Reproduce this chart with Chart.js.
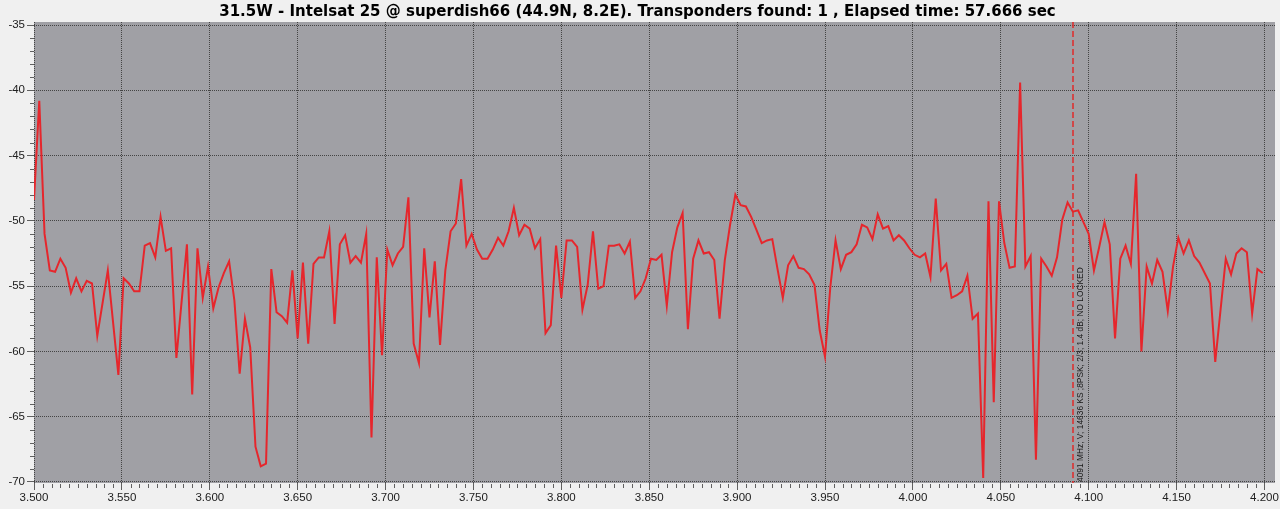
<!DOCTYPE html>
<html>
<head>
<meta charset="utf-8">
<script src="https://cdn.jsdelivr.net/npm/chart.js@4/dist/chart.umd.min.js"></script>
<style>
  html, body { margin: 0; padding: 0; background: #f0f0f0; }
  #scan { display: block; }
</style>
</head>
<body>
<canvas id="scan" width="1280" height="509"></canvas>
<script>
// Blind scan result
const TITLE = "31.5W - Intelsat 25 @ superdish66 (44.9N, 8.2E). Transponders found: 1 , Elapsed time: 57.666 sec";

// frequency (MHz) and level (dB) of the spectrum trace
const freqs = [
  3500, 3503, 3506, 3509, 3512, 3515, 3518, 3521, 3524, 3527, 3530, 3533, 3536, 3542, 3548, 3551, 3554, 3557, 3560, 3563,
  3566, 3569, 3572, 3575, 3578, 3581, 3587, 3590, 3593, 3596, 3599, 3602, 3605, 3608, 3611, 3614, 3617, 3620, 3623, 3626,
  3629, 3632, 3635, 3638, 3641, 3644, 3647, 3650, 3653, 3656, 3659, 3662, 3665, 3668, 3671, 3674, 3677, 3680, 3683, 3686,
  3689, 3692, 3695, 3698, 3701, 3704, 3707, 3710, 3713, 3716, 3719, 3722, 3725, 3728, 3731, 3734, 3737, 3740, 3743, 3746,
  3749, 3752, 3755, 3758, 3761, 3764, 3767, 3770, 3773, 3776, 3779, 3782, 3785, 3788, 3791, 3794, 3797, 3800, 3803, 3806,
  3809, 3812, 3815, 3818, 3821, 3824, 3827, 3830, 3833, 3836, 3839, 3842, 3845, 3848, 3851, 3854, 3857, 3860, 3863, 3866,
  3869, 3872, 3875, 3878, 3881, 3884, 3887, 3890, 3893, 3896, 3899, 3902, 3905, 3908, 3911, 3914, 3917, 3920, 3923, 3926,
  3929, 3932, 3935, 3938, 3941, 3944, 3947, 3950, 3953, 3956, 3959, 3962, 3965, 3968, 3971, 3974, 3977, 3980, 3983, 3986,
  3989, 3992, 3995, 3998, 4001, 4004, 4007, 4010, 4013, 4016, 4019, 4022, 4025, 4028, 4031, 4034, 4037, 4040, 4043, 4046,
  4049, 4052, 4055, 4058, 4061, 4064, 4067, 4070, 4073, 4076, 4079, 4082, 4085, 4088, 4091, 4094, 4097, 4100, 4103, 4106,
  4109, 4112, 4115, 4118, 4121, 4124, 4127, 4130, 4133, 4136, 4139, 4142, 4145, 4148, 4151, 4154, 4157, 4160, 4163, 4169,
  4172, 4178, 4181, 4184, 4187, 4190, 4193, 4196, 4199
];
const levels = [
  -48.4, -40.8, -51.0, -53.8, -53.9, -52.9, -53.6, -55.5, -54.4, -55.4, -54.6, -54.8, -58.8, -53.8, -61.8, -54.4, -54.8, -55.4, -55.4, -51.9,
  -51.7, -52.8, -49.7, -52.3, -52.1, -60.5, -51.8, -63.3, -52.1, -55.9, -53.5, -56.7, -55.1, -54.0, -53.1, -56.1, -61.7, -57.5, -59.7, -67.3,
  -68.8, -68.6, -53.7, -57.0, -57.3, -57.8, -53.8, -59.0, -53.2, -59.4, -53.3, -52.8, -52.8, -50.8, -57.9, -51.8, -51.1, -53.2, -52.7, -53.2,
  -51.0, -66.6, -52.8, -60.3, -52.2, -53.4, -52.5, -52.0, -48.2, -59.4, -60.9, -52.1, -57.4, -53.1, -59.5, -53.8, -50.8, -50.2, -46.8, -51.9,
  -51.0, -52.2, -52.9, -52.9, -52.2, -51.3, -51.9, -50.8, -49.0, -51.1, -50.3, -50.6, -52.1, -51.4, -58.6, -58.0, -51.9, -55.9, -51.5, -51.5,
  -52.0, -56.8, -54.9, -50.8, -55.2, -55.0, -51.9, -51.9, -51.8, -52.5, -51.6, -55.9, -55.4, -54.4, -52.9, -53.0, -52.6, -56.5, -52.4, -50.5,
  -49.4, -58.3, -52.9, -51.5, -52.5, -52.4, -53.0, -57.5, -53.0, -50.3, -48.0, -48.8, -48.9, -49.7, -50.7, -51.7, -51.5, -51.4, -53.7, -55.9,
  -53.4, -52.7, -53.6, -53.7, -54.1, -54.9, -58.4, -60.4, -55.1, -51.5, -53.7, -52.6, -52.4, -51.8, -50.3, -50.5, -51.4, -49.5, -50.6, -50.4,
  -51.5, -51.1, -51.5, -52.1, -52.6, -52.8, -52.5, -54.3, -48.3, -53.8, -53.3, -55.9, -55.7, -55.4, -54.2, -57.5, -57.1, -69.7, -48.5, -63.9,
  -48.5, -51.7, -53.6, -53.5, -39.4, -53.5, -52.7, -68.3, -52.9, -53.5, -54.2, -52.8, -49.9, -48.6, -49.3, -49.2, -50.1, -51.0, -53.8, -52.0,
  -50.1, -51.8, -59.0, -52.9, -51.9, -53.3, -46.4, -60.0, -53.5, -54.8, -53.0, -53.9, -56.9, -53.5, -51.3, -52.5, -51.5, -52.7, -53.2, -54.8,
  -60.8, -52.9, -54.1, -52.5, -52.1, -52.4, -57.1, -53.7, -54.0
];

// tick labels
const xTicks = [3.500, 3.550, 3.600, 3.650, 3.700, 3.750, 3.800, 3.850, 3.900, 3.950, 4.000, 4.050, 4.100, 4.150, 4.200];
const yTicks = [-70, -65, -60, -55, -50, -45, -40, -35];

// found transponder
const tpFreq = 4.091;
const tpLabel = "4091 MHz; V; 14636 KS ;8PSK; 2/3; 1.4 dB; NO LOCKED";

const FONT = "'Liberation Sans', Arial, sans-serif";

const plotBackground = {
    id: 'plotBackground',
    beforeDraw(chart) {
        const {ctx, chartArea: a} = chart;
        ctx.save();
        ctx.fillStyle = '#a0a0a5';
        ctx.fillRect(a.left, a.top, a.right - a.left, a.bottom - a.top);
        ctx.restore();
    }
};

// minor ticks and the transponder marker
const extras = {
    id: 'extras',
    afterDraw(chart) {
        const {ctx, chartArea: a, scales: {x, y}} = chart;
        ctx.save();
        ctx.strokeStyle = '#606060';
        ctx.lineWidth = 1;
        ctx.beginPath();
        for (let k = 0; k <= 140; k++) {
            if (k % 10 === 0) continue;
            const px = Math.round(x.getPixelForValue(3.5 + k * 0.005)) + 0.5;
            ctx.moveTo(px, a.bottom + 1);
            ctx.lineTo(px, a.bottom + 5);
        }
        for (let v = -70; v <= -35; v++) {
            if (v % 5 === 0) continue;
            const py = Math.round(y.getPixelForValue(v)) + 0.5;
            ctx.moveTo(a.left - 4, py);
            ctx.lineTo(a.left, py);
        }
        ctx.stroke();

        const lx = Math.round(x.getPixelForValue(tpFreq));
        ctx.strokeStyle = '#e02a2a';
        ctx.lineWidth = 1.5;
        ctx.setLineDash([6, 3]);
        ctx.beginPath();
        ctx.moveTo(lx, a.top);
        ctx.lineTo(lx, a.bottom);
        ctx.stroke();
        ctx.setLineDash([]);

        ctx.translate(lx + 8, a.bottom - 1);
        ctx.rotate(-Math.PI / 2);
        ctx.fillStyle = '#181818';
        ctx.font = "8.4px " + FONT;
        ctx.textAlign = 'left';
        ctx.textBaseline = 'middle';
        ctx.fillText(tpLabel, 0, 0);
        ctx.restore();
    }
};

const SCAN = document.getElementById("scan");
const scanChart = new Chart(SCAN, {
    type: 'line',
    data: {
        datasets: [{
            data: freqs.map((f, i) => ({x: f / 1000, y: levels[i]})),
            borderColor: '#e6262c',
            borderWidth: 2,
            pointRadius: 0,
            tension: 0,
            fill: false,
        }]
    },
    options: {
        responsive: false,
        animation: false,
        layout: {
            padding: {left: 0, right: 5, top: 0, bottom: 0}
        },
        plugins: {
            legend: {display: false},
            tooltip: {enabled: false},
            title: {
                display: true,
                text: TITLE,
                color: '#000000',
                font: {size: 15, weight: 'bold', family: "'DejaVu Sans', sans-serif", lineHeight: 1.2},
                padding: {top: 3, bottom: 1},
            },
        },
        scales: {
            x: {
                type: 'linear',
                min: 3.5,
                max: 4.206,
                bounds: 'data',
                afterBuildTicks: s => { s.ticks = xTicks.map(v => ({value: v})); },
                afterFit: s => { s.height = 26; },
                ticks: {
                    callback: v => v.toFixed(3),
                    color: '#202020',
                    font: {size: 11.5, family: FONT},
                    maxRotation: 0,
                    autoSkip: false,
                    padding: 1,
                },
                grid: {
                    color: '#444444',
                    tickColor: '#606060',
                    tickLength: 7,
                },
                border: {display: false, dash: [1, 1]},
            },
            y: {
                type: 'linear',
                min: -70.08,
                max: -34.77,
                bounds: 'data',
                afterBuildTicks: s => { s.ticks = yTicks.map(v => ({value: v})); },
                afterFit: s => { s.width = 34; },
                ticks: {
                    color: '#202020',
                    font: {size: 11.5, family: FONT},
                    padding: 2,
                },
                grid: {
                    color: '#444444',
                    tickColor: '#606060',
                    tickLength: 7,
                },
                border: {display: false, dash: [1, 1]},
            },
        },
    },
    plugins: [plotBackground, extras],
});
</script>
</body>
</html>
